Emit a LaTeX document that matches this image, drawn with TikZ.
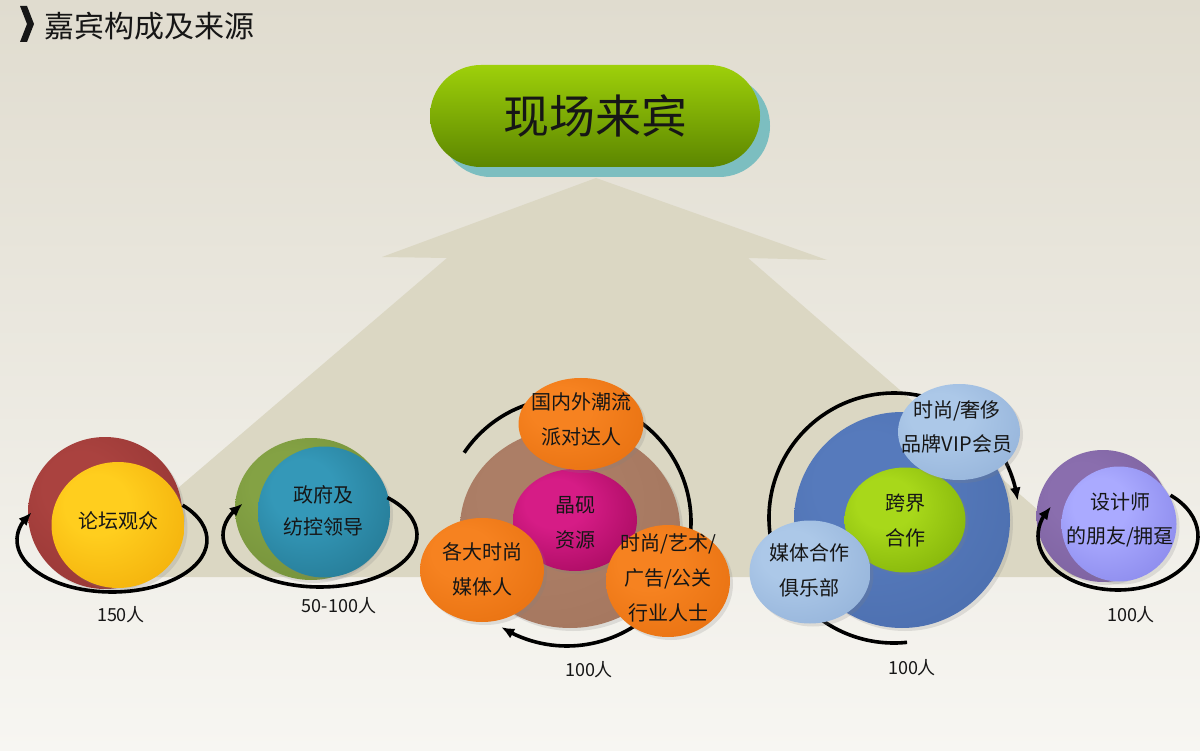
\documentclass[tikz,border=0pt]{standalone}
\usepackage{fontspec}
\setmainfont{Noto Sans CJK SC}
\usetikzlibrary{arrows.meta,shapes.geometric,shadows,bending}

\definecolor{bgtop}{RGB}{224,220,207}
\definecolor{bgmid}{RGB}{238,236,229}
\definecolor{bgbot}{RGB}{247,246,242}
\definecolor{body}{RGB}{219,215,195}
\definecolor{txt}{RGB}{22,22,22}
\definecolor{pilltop}{RGB}{158,208,10}
\definecolor{pillbot}{RGB}{92,134,0}
\definecolor{pillshadow}{RGB}{124,190,192}

\definecolor{redL}{RGB}{170,66,63}\definecolor{redD}{RGB}{138,48,46}
\definecolor{yelL}{RGB}{255,206,30}\definecolor{yelD}{RGB}{236,158,0}
\definecolor{grnL}{RGB}{132,162,68}\definecolor{grnD}{RGB}{106,134,52}
\definecolor{tealL}{RGB}{52,152,184}\definecolor{tealD}{RGB}{28,104,128}
\definecolor{brnL}{RGB}{172,126,102}\definecolor{brnD}{RGB}{160,114,90}
\definecolor{magL}{RGB}{214,28,134}\definecolor{magD}{RGB}{140,0,74}
\definecolor{orgL}{RGB}{246,130,32}\definecolor{orgD}{RGB}{224,104,8}
\definecolor{bluL}{RGB}{86,122,188}\definecolor{bluD}{RGB}{70,104,166}
\definecolor{limL}{RGB}{168,216,26}\definecolor{limD}{RGB}{110,158,0}
\definecolor{lbL}{RGB}{172,200,232}\definecolor{lbD}{RGB}{136,168,210}
\definecolor{purL}{RGB}{138,110,174}\definecolor{purD}{RGB}{116,90,150}
\definecolor{lavL}{RGB}{170,170,255}\definecolor{lavD}{RGB}{120,118,224}

\newcommand\mkball[3]{\pgfdeclareradialshading{#1}{\pgfpoint{-10bp}{10bp}}{color(0bp)=(#2); color(12bp)=(#2); color(50bp)=(#3); color(62bp)=(#3)}}
\mkball{redball}{redL}{redD}
\mkball{yelball}{yelL}{yelD}
\mkball{grnball}{grnL}{grnD}
\mkball{tealball}{tealL}{tealD}
\mkball{brnball}{brnL}{brnD}
\mkball{magball}{magL}{magD}
\mkball{orgball}{orgL}{orgD}
\mkball{bluball}{bluL}{bluD}
\mkball{limball}{limL}{limD}
\mkball{lbball}{lbL}{lbD}
\mkball{purball}{purL}{purD}
\mkball{lavball}{lavL}{lavD}

\begin{document}
\begin{tikzpicture}[x=1pt,y=-1pt,
  ball/.style={shape=ellipse, inner sep=0pt, draw=none},
  shd/.style={drop shadow={shadow xshift=3pt, shadow yshift=-3pt, opacity=0.2}},
  ctext/.style={align=center, inner sep=0pt, text=txt, font=\fontsize{20}{35}\selectfont},
  cnt/.style={inner sep=0pt, text=txt, font=\fontsize{18}{22}\selectfont},
  ring/.style={line width=3.6pt, draw=black},
  ringarrow/.style={ring, -{Latex[length=13pt,width=11pt]}},
  pill/.style={rectangle, rounded corners=50.9pt, minimum width=330pt, minimum height=102pt,
     top color=pilltop, bottom color=pillbot, inner sep=0pt, text=txt,
     font=\fontsize{46}{50}\selectfont,
     drop shadow={shadow xshift=10pt, shadow yshift=-10pt, fill=pillshadow, opacity=1}},
]
\useasboundingbox (0,0) rectangle (1200,751);
% background
\shade[top color=bgtop, middle color=bgmid, bottom color=bgbot] (0,0) rectangle (1200,751);

% title
\fill[txt] (20,6) -- (27,6) -- (34,24) -- (27,42) -- (20,42) -- (27,24) -- cycle;
\node[anchor=west, inner sep=0pt, text=txt, font=\fontsize{30}{33}\selectfont] (title) at (44,26) {嘉宾构成及来源};

% big up arrow body
\fill[body] (596,178) -- (827,260) -- (748,258) -- (1115,577) -- (74,577) -- (447,258) -- (382,257) -- cycle;

% top pill
\node[pill] (main) at (595,116) {现场来宾};

% ---- group 1
\node[ball, shd, shading=redball, minimum width=154pt, minimum height=152pt] (g1o) at (105,513) {};
\node[ball, shd, shading=yelball, minimum width=133pt, minimum height=126pt] (g1i) at (118,525) {};
\node[ctext] (t1) at (118,521) {论坛观众};
\coordinate (r1) at (112,540);
\draw[ringarrow] ([shift={(-42:95 and 52)}]r1) arc[start angle=-42, end angle=212, x radius=95, y radius=52];
\node[cnt] (n1) at (121,615) {150人};

% ---- group 2
\node[ball, shd, shading=grnball, minimum width=152pt, minimum height=142pt] (g2o) at (311,509) {};
\node[ball, shd, shading=tealball, minimum width=132pt, minimum height=131pt] (g2i) at (324,512) {};
\node[ctext, font=\fontsize{20}{32}\selectfont] (t2) at (323,511) {政府及\\纺控领导};
\coordinate (r2) at (320,535);
\draw[ringarrow] ([shift={(-46:97 and 52)}]r2) arc[start angle=-46, end angle=217, x radius=97, y radius=52];
\node[cnt] (n2) at (339,606) {50-100人};

% ---- group 3
\node[ball, shd, shading=brnball, minimum width=220pt, minimum height=200pt] (g3b) at (570,528) {};
\coordinate (r3) at (567,522);
\draw[ring] ([shift={(-146:124)}]r3) arc[start angle=-146, end angle=20, radius=124];
\draw[ringarrow] ([shift={(40:124)}]r3) arc[start angle=40, end angle=122, radius=124];
\node[ball, shd, shading=magball, minimum width=124pt, minimum height=102pt] (g3m) at (575,520) {};
\node[ball, shd, shading=orgball, minimum width=125pt, minimum height=92pt] (g3t) at (581,424) {};
\node[ball, shd, shading=orgball, minimum width=124pt, minimum height=104pt] (g3l) at (482,570) {};
\node[ball, shd, shading=orgball, minimum width=124pt, minimum height=112pt] (g3r) at (668,581) {};
\node[ctext] (t3m) at (575,523) {晶砚\\资源};
\node[ctext] (t3t) at (581,419) {国内外潮流\\派对达人};
\node[ctext] (t3l) at (482,569) {各大时尚\\媒体人};
\node[ctext] (t3r) at (668,578) {时尚/艺术/\\广告/公关\\行业人士};
\node[cnt] (n3) at (589,670) {100人};

% ---- group 4
\node[ball, shd, shading=bluball, minimum width=216pt, minimum height=216pt] (g4b) at (902,520) {};
\node[ball, shd, shading=limball, minimum width=121pt, minimum height=105pt] (g4g) at (905,520) {};
\coordinate (r4) at (894,518);
\draw[ringarrow] ([shift={(84:125)}]r4) arc[start angle=84, end angle=352, radius=125];
\node[ball, shd, shading=lbball, minimum width=122pt, minimum height=96pt] (g4v) at (959,432) {};
\node[ball, shd, shading=lbball, minimum width=121pt, minimum height=103pt] (g4m) at (810,572) {};
\node[ctext] (t4g) at (905,521) {跨界\\合作};
\node[ctext, font=\fontsize{20}{34}\selectfont] (t4v) at (957,427) {时尚/奢侈\\品牌VIP会员};
\node[ctext] (t4m) at (809,570) {媒体合作\\俱乐部};
\node[cnt] (n4) at (912,668) {100人};

% ---- group 5
\node[ball, shd, shading=purball, minimum width=133pt, minimum height=132pt] (g5o) at (1103,516) {};
\node[ball, shd, shading=lavball, minimum width=115pt, minimum height=115pt] (g5i) at (1119,524) {};
\node[ctext, font=\fontsize{20}{34}\selectfont] (t5) at (1120,520) {设计师\\的朋友/拥趸};
\coordinate (r5) at (1118,536);
\draw[ringarrow] ([shift={(-49:80 and 54)}]r5) arc[start angle=-49, end angle=213, x radius=80, y radius=54];
\node[cnt] (n5) at (1131,615) {100人};
\end{tikzpicture}
\end{document}
